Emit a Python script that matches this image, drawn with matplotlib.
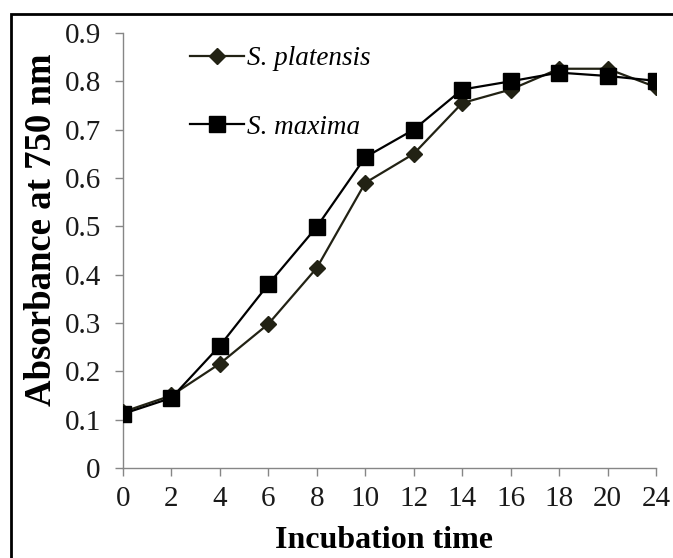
"""
Growth curves of two Spirulina strains (absorbance at 750 nm vs incubation time).
"""
import matplotlib
matplotlib.use('Agg')
import matplotlib.pyplot as plt
from matplotlib.patches import Rectangle

plt.rcParams['font.family'] = ['Liberation Serif', 'DejaVu Serif']

# Category axis, as in the original (note the 20 -> 24 step is drawn evenly)
TIME_LABELS = ['0', '2', '4', '6', '8', '10', '12', '14', '16', '18', '20', '24']
PLATENSIS = [0.116, 0.150, 0.216, 0.298, 0.414, 0.590, 0.650, 0.755, 0.783,
             0.826, 0.826, 0.788]
MAXIMA = [0.112, 0.145, 0.253, 0.380, 0.499, 0.643, 0.700, 0.783, 0.800,
          0.818, 0.811, 0.801]
Y_TICKS = [0, 0.1, 0.2, 0.3, 0.4, 0.5, 0.6, 0.7, 0.8, 0.9]

SPINE = '#868686'
TEXT = '#1a1a1a'

fig = plt.figure(figsize=(6.73, 5.58), dpi=100)
ax = fig.add_axes([0.1828, 0.1613, 0.7919, 0.7796])

xs = range(len(TIME_LABELS))
ax.plot(xs, PLATENSIS, color='#222214', lw=1.6, marker='D', ms=8.5,
        mfc='#222214', mec='#222214', label='S. platensis', zorder=3)
ax.plot(xs, MAXIMA, color='black', lw=1.6, marker='s', ms=11,
        mfc='black', mec='black', label='S. maxima', zorder=4)

ax.set_xlim(0, len(TIME_LABELS) - 1)
ax.set_ylim(0, 0.9)
ax.set_xticks(list(xs))
ax.set_xticklabels(TIME_LABELS)
ax.set_yticks(Y_TICKS)
ax.set_yticklabels(['0'] + [f'{v:.1f}' for v in Y_TICKS[1:]])

for side in ('top', 'right'):
    ax.spines[side].set_visible(False)
for side in ('left', 'bottom'):
    ax.spines[side].set_color(SPINE)
    ax.spines[side].set_linewidth(1.0)
ax.tick_params(axis='both', direction='out', length=6, width=1.0,
               color=SPINE, labelsize=21, labelcolor=TEXT)
ax.tick_params(axis='y', pad=10)
ax.tick_params(axis='x', pad=7)

ax.set_xlabel('Incubation time', fontsize=23, fontweight='bold')
ax.set_ylabel('Absorbance at 750 nm', fontsize=26.5, fontweight='bold')
ax.xaxis.set_label_coords(0.49, -0.134)
ax.yaxis.set_label_coords(-0.121, 0.547)

leg = ax.legend(loc='center left', bbox_to_anchor=(0.126, 0.862),
                frameon=False, prop={'style': 'italic', 'size': 19.5},
                handlelength=2.0, handletextpad=0.1, labelspacing=1.6,
                borderaxespad=0, borderpad=0)

# outer frame (right and bottom edges fall outside the image)
fig.patches.append(Rectangle((11 / 673, -0.05), 1.2, 1 - 14 / 558 + 0.05,
                             transform=fig.transFigure, fill=False,
                             edgecolor='black', lw=2.0))

fig.savefig('out.png', dpi=100)
